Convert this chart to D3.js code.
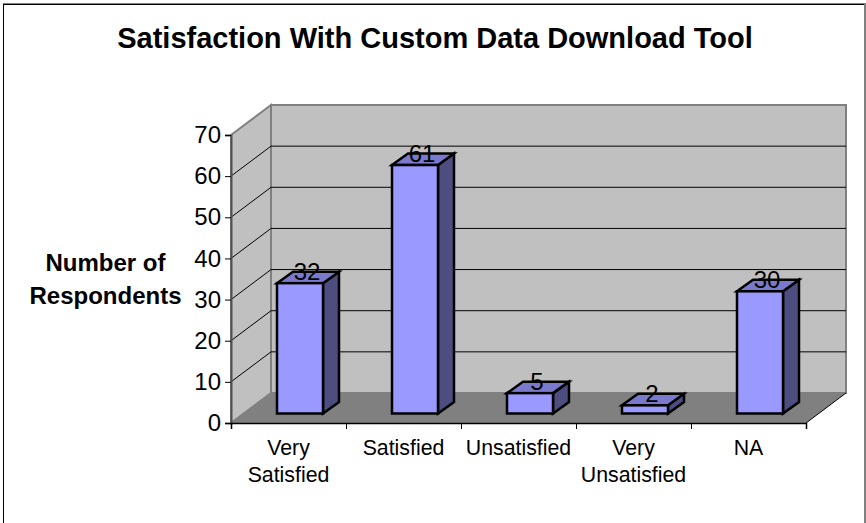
<!DOCTYPE html>
<html><head><meta charset="utf-8">
<script src="https://cdnjs.cloudflare.com/ajax/libs/d3/7.8.5/d3.min.js"></script>
<style>html,body{margin:0;padding:0;background:#fff}svg{display:block}text{font-family:"Liberation Sans",Arial,sans-serif;fill:#000}</style>
</head><body><svg id="c" width="866" height="523"></svg>
<script>
const categories=[["Very","Satisfied"],["Satisfied"],["Unsatisfied"],["Very","Unsatisfied"],["NA"]];
const counts=[32,61,5,2,30];
const yTicks=[0,10,20,30,40,50,60,70];
const titleText="Satisfaction With Custom Data Download Tool";
const yTitle=["Number of","Respondents"];

const svg=d3.select("#c");
const x=d3.scaleBand().domain(d3.range(counts.length)).range([231,806]);
const y=d3.scaleLinear().domain([0,70]).range([423,135]);
const depth={x:40,y:-30};
const pts=a=>a.map(p=>p.join(",")).join(" ");

// frame
svg.append("line").attr("x1",3.5).attr("y1",4.5).attr("x2",866).attr("y2",4.5).attr("stroke","#000").attr("stroke-width",1);
svg.append("line").attr("x1",3).attr("y1",3.5).attr("x2",866).attr("y2",3.5).attr("stroke","#808080").attr("stroke-width",1);
svg.append("line").attr("x1",3.5).attr("y1",4).attr("x2",3.5).attr("y2",523).attr("stroke","#000").attr("stroke-width",1);
svg.append("line").attr("x1",865).attr("y1",4).attr("x2",865).attr("y2",523).attr("stroke","#808080").attr("stroke-width",2);

svg.append("text").attr("x",435).attr("y",48).attr("text-anchor","middle").attr("font-size",29).attr("font-weight","bold").text(titleText);

// walls and floor
const y0=y(0),y70=y(70),xL=x.range()[0],xR=x.range()[1];
const wall="#c0c0c0",edge="#808080";
svg.append("polygon").attr("points",pts([[xL+depth.x,y70+depth.y],[xR+depth.x,y70+depth.y],[xR+depth.x,y0+depth.y],[xL+depth.x,y0+depth.y]])).attr("fill",wall).attr("stroke",edge).attr("stroke-width",2);
svg.append("polygon").attr("points",pts([[xL,y70],[xL+depth.x,y70+depth.y],[xL+depth.x,y0+depth.y],[xL,y0]])).attr("fill",wall).attr("stroke",edge).attr("stroke-width",2);
svg.append("polygon").attr("points",pts([[xL,y0],[xL+depth.x,y0+depth.y],[xR+depth.x,y0+depth.y],[xR,y0]])).attr("fill",edge);
svg.append("line").attr("x1",xR).attr("y1",y0).attr("x2",xR+depth.x).attr("y2",y0+depth.y).attr("stroke","#000").attr("stroke-width",1);

// gridlines
yTicks.slice(1,-1).forEach(t=>{
  const yy=y(t);
  svg.append("polyline").attr("points",pts([[xL,yy],[xL+depth.x,yy+depth.y],[xR+depth.x,yy+depth.y]])).attr("fill","none").attr("stroke","#000").attr("stroke-width",1);
});

// axes
const gy=svg.append("g").attr("transform",`translate(${xL},0)`).call(d3.axisLeft(y).tickValues(yTicks).tickSize(6).tickPadding(4));
gy.select(".domain").attr("stroke","#505050").attr("stroke-width",2);
gy.selectAll("text").attr("font-size",24).style("font-family",'"Liberation Sans",Arial,sans-serif').attr("fill","#000");
const gx=svg.append("g").attr("transform",`translate(0,${y0})`).call(d3.axisBottom(d3.scaleLinear().domain([0,5]).range([xL,xR])).ticks(5).tickSize(6).tickFormat(""));
gx.select(".domain").attr("stroke","#000").attr("stroke-width",1.5);

svg.append("text").attr("text-anchor","middle").attr("font-size",24).attr("font-weight","bold")
 .selectAll("tspan").data(yTitle).join("tspan").attr("x",105.5).attr("y",(d,i)=>271+i*32.5).text(d=>d);

// category labels
categories.forEach((lines,i)=>{
  svg.append("text").attr("text-anchor","middle").attr("font-size",21.3)
    .selectAll("tspan").data(lines).join("tspan").attr("x",x(i)+x.bandwidth()/2).attr("y",(d,j)=>455+j*27).text(d=>d);
});

// bars
const barW=46, bd={x:16,y:-11.5};
const g=svg.selectAll("g.bar").data(counts).join("g").attr("class","bar");
g.each(function(v,i){
  const s=d3.select(this);
  const l=x(i)+x.bandwidth()/2-23+11.5, r=l+barW;
  const b=y0-9.5, t=b-(y0-y(v))*0.99;
  const st=e=>e.attr("stroke","#000").attr("stroke-width",2.5).attr("stroke-linejoin","miter");
  st(s.append("polygon").attr("points",pts([[r,b],[r+bd.x,b+bd.y],[r+bd.x,t+bd.y],[r,t]])).attr("fill","#4d4d80"));
  st(s.append("polygon").attr("points",pts([[l,t],[l+bd.x,t+bd.y],[r+bd.x,t+bd.y],[r,t]])).attr("fill","#7a7acc"));
  st(s.append("rect").attr("x",l).attr("y",t).attr("width",barW).attr("height",b-t).attr("fill","#9999ff"));
  s.append("text").attr("x",l+30).attr("y",t-3).attr("text-anchor","middle").attr("font-size",24).text(v);
});
</script></body></html>
